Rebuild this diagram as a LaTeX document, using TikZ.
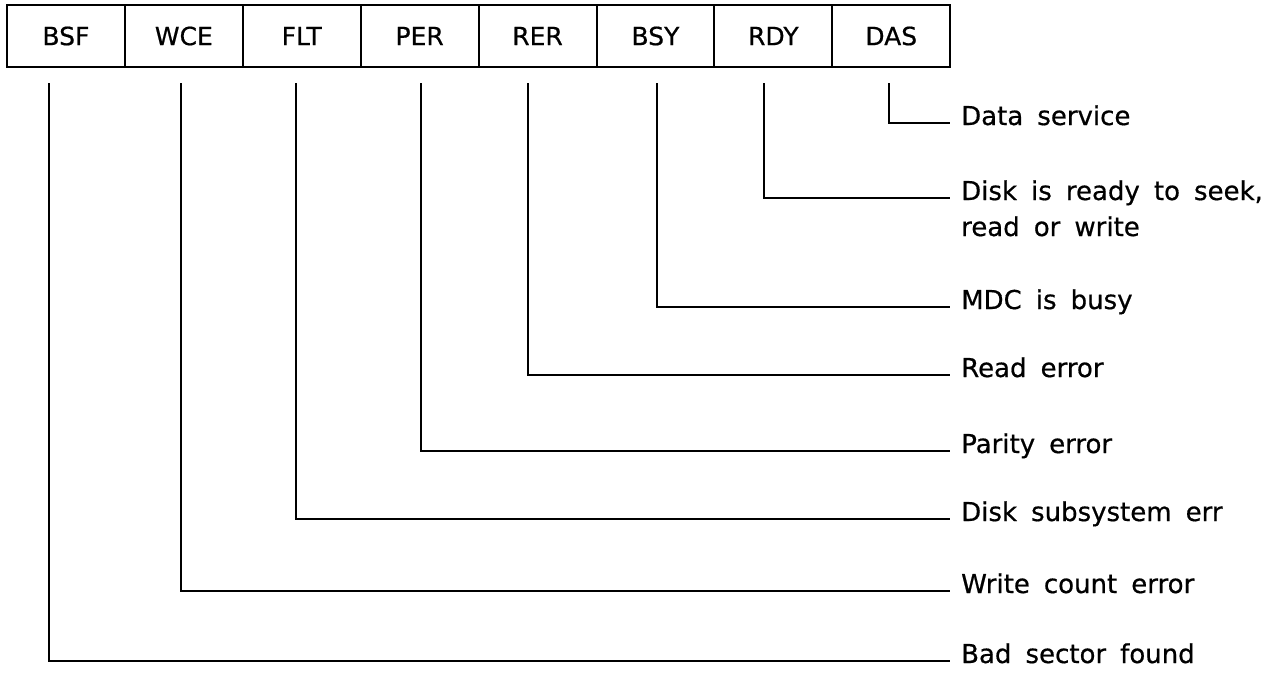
\documentclass[tikz,border=0pt]{standalone}
\usepackage{fontspec}
\setmainfont[WordSpace=1.7, FakeBold=0.6]{DejaVu Sans}

\tikzstyle{reg bit}=[draw, line width=2pt, minimum width=117.9pt, minimum height=62pt, inner sep=0pt, font=\fontsize{25}{29}\selectfont]
\tikzstyle{bit text}=[anchor=base west, inner xsep=11pt, inner ysep=0pt, align=left, font=\fontsize{26}{36}\selectfont]
\tikzstyle{lead}=[line width=2pt]

\begin{document}
\begin{tikzpicture}[x=1pt, y=-1pt]
	\useasboundingbox[fill=white] (0,0) rectangle (1283,673);

	% Status register bits
	\foreach \name/\lbl [count=\i from 0] in {bsf/BSF, wce/WCE, flt/FLT, per/PER, rer/RER, bsy/BSY, rdy/RDY, das/DAS}{
		\node[reg bit] (\name) at (65.95+117.9*\i, 36) {\lbl};
	}

	% Bit meanings (base of a two-line node is its last line)
	\node[bit text] (ldas) at (950,125) {Data service};
	\node[bit text] (lrdy) at (950,236) {Disk is ready to seek,\\read or write};
	\node[bit text] (lbsy) at (950,309) {MDC is busy};
	\node[bit text] (lrer) at (950,377) {Read error};
	\node[bit text] (lper) at (950,453) {Parity error};
	\node[bit text] (lflt) at (950,521) {Disk subsystem err};
	\node[bit text] (lwce) at (950,593) {Write count error};
	\node[bit text] (lbsf) at (950,663) {Bad sector found};

	% Leads from the bits to their meanings
	\foreach \name/\x/\up in {bsf/49/2, wce/181/2, flt/296/2, per/421/2, rer/528/2, bsy/657/2, rdy/764/38, das/889/2}{
		\coordinate (t\name) at (\x,83);
		\draw[lead] (t\name) |- ([yshift=\up pt]l\name.base west);
	}
\end{tikzpicture}
\end{document}
